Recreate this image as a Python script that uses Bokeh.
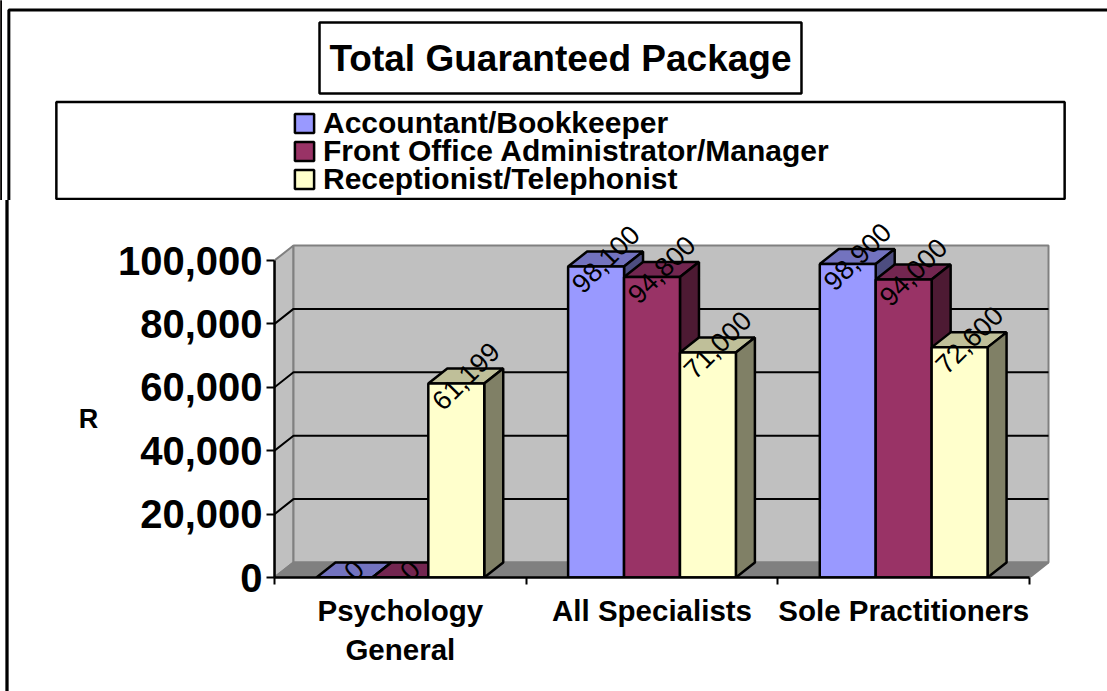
from bokeh.plotting import figure
from bokeh.models import Label, FixedTicker, Legend, LegendItem
from bokeh.embed import file_html
from bokeh.resources import INLINE

title = "Total Guaranteed Package"
categories = ["Psychology\nGeneral", "All Specialists", "Sole Practitioners"]
series = ["Accountant/Bookkeeper", "Front Office Administrator/Manager", "Receptionist/Telephonist"]
accountant = [0, 98100, 98900]
front_office = [0, 94800, 94000]
receptionist = [61199, 71000, 72600]
y_ticks = [0, 20000, 40000, 60000, 80000, 100000]
y_name = "R"

front = ["#9999FF", "#993366", "#FFFFCC"]
top = ["#7373BF", "#732650", "#BFBF99"]
side = ["#4D4D80", "#4D1A33", "#808066"]
FONT = "Liberation Sans"

W, H = 1107, 691           # whole page
T = 200                    # height of the header figure
L, B, R = 274, 577, 1060   # frame of the chart, in page pixels
PXX = 251.67
PXY = 3.17 / 1000
DX = 19 / PXX
DY = 15 / PXY
BW = 1 / 4.5
LW = 2.5


def box(cx, cy, ph, pv, width):
    return Label(x=cx, y=cy, x_units="canvas", y_units="canvas", text=" ", text_font_size="1px",
                 text_align="center", text_baseline="middle",
                 border_line_color="black", border_line_width=width, padding=(ph, pv))


# ---------- header: title and legend ----------
head = figure(width=W, height=T, output_backend="svg", toolbar_location=None,
              x_range=(0, 1), y_range=(0, 1), x_axis_location=None, y_axis_location=None,
              min_border=0, outline_line_color=None)
head.grid.visible = False
head.add_layout(box(654.5, 401, 646, 391, 3))
head.add_layout(box(560, 150, 504, 48, LW))
head.add_layout(Label(x=560, y=57.5, x_units="canvas", y_units="canvas", text=title,
                      text_font=FONT, text_font_style="bold", text_font_size="37px",
                      text_color="black", text_align="center", text_baseline="middle",
                      background_fill_color="white", border_line_color="black", border_line_width=LW,
                      padding=(10, 15)))
for name, colour, offset in zip(series, front, [60, 32, 4]):
    swatch = head.vbar(x=[-5], top=[1], width=1, fill_color=colour, line_color="black", line_width=LW)
    head.add_layout(Legend(items=[LegendItem(label=name, renderers=[swatch])],
                           location=(292, offset), orientation="vertical", border_line_color=None,
                           background_fill_alpha=0, margin=0, padding=0, spacing=0,
                           glyph_width=24, glyph_height=24, label_height=20, label_standoff=7,
                           label_text_font=FONT, label_text_font_style="bold", label_text_font_size="30px",
                           label_text_color="black"))

# ---------- chart ----------
p = figure(width=W, height=H - T, output_backend="svg", toolbar_location=None,
           x_range=(0, (R - L) / PXX), y_range=(0, (B - T) / PXY),
           min_border_left=L, min_border_right=W - R,
           min_border_top=0, min_border_bottom=H - B)
p.outline_line_color = None
p.grid.visible = False

ymax = y_ticks[-1]
xmax = len(categories)
# walls and floor
p.patch([0, DX, DX, 0], [0, DY, ymax + DY, ymax], fill_color="#C0C0C0",
        line_color="#808080", line_width=2)
p.patch([DX, xmax + DX, xmax + DX, DX], [DY, DY, ymax + DY, ymax + DY],
        fill_color="#C0C0C0", line_color="#808080", line_width=2)
p.patch([0, xmax, xmax + DX, DX], [0, 0, DY, DY], fill_color="#808080",
        line_color="#808080", line_width=2)
# gridlines
for t in y_ticks[1:-1]:
    p.line([0, DX, xmax + DX], [t, t + DY, t + DY], line_color="black", line_width=2)

for gi in range(len(categories)):
    for si, vals in enumerate([accountant, front_office, receptionist]):
        v = vals[gi]
        x0 = gi + 0.5 + (si - 1.5) * BW
        x1 = x0 + BW
        p.patch([x0, x1, x1 + DX, x0 + DX], [v, v, v + DY, v + DY],
                fill_color=top[si], line_color="black", line_width=LW)
        p.patch([x1, x1 + DX, x1 + DX, x1], [0, DY, v + DY, v],
                fill_color=side[si], line_color="black", line_width=LW)
        p.vbar(x=[(x0 + x1) / 2], top=[v], bottom=0, width=BW,
               fill_color=front[si], line_color="black", line_width=LW)

for gi in range(len(categories)):
    for si, vals in enumerate([accountant, front_office, receptionist]):
        v = vals[gi]
        xc = gi + 0.5 + (si - 1) * BW + DX / 2
        p.text([xc], [v + DY / 2], text=[f"{v:,}"], angle=0.785398, text_align="center",
               text_baseline="middle", text_font={"value": FONT}, text_font_size={"value": "27px"},
               text_color="black")

# axes
ax = p.yaxis[0]
ax.ticker = FixedTicker(ticks=y_ticks)
ax.bounds = (0, ymax)
ax.major_label_overrides = {t: f"{t:,}" for t in y_ticks}
ax.major_label_text_font = FONT
ax.major_label_text_font_style = "bold"
ax.major_label_text_font_size = "40px"
ax.major_label_text_color = "black"
ax.major_label_standoff = 4
ax.major_tick_in = 0
ax.major_tick_out = 8
ax.major_tick_line_width = 2
ax.minor_tick_line_color = None
ax.axis_line_width = LW

bx = p.xaxis[0]
bx.ticker = FixedTicker(ticks=[i + 0.5 for i in range(xmax)], minor_ticks=list(range(xmax + 1)))
bx.bounds = (0, xmax)
bx.major_label_overrides = {i + 0.5: c for i, c in enumerate(categories)}
bx.major_label_text_font = FONT
bx.major_label_text_font_style = "bold"
bx.major_label_text_font_size = "29.5px"
bx.major_label_text_color = "black"
bx.major_label_standoff = 9
bx.major_tick_line_color = None
bx.minor_tick_in = 0
bx.minor_tick_out = 7
bx.minor_tick_line_width = 2
bx.axis_line_width = LW

p.add_layout(box(6.5, 245, 0, 300, 3), "left")
p.add_layout(Label(x=88, y=418 - T, x_units="canvas", y_units="canvas", text=y_name,
                   text_font=FONT, text_font_style="bold", text_font_size="27px",
                   text_color="black", text_align="center", text_baseline="middle"), "left")

open("out.html", "w").write(file_html((head, p), INLINE))
